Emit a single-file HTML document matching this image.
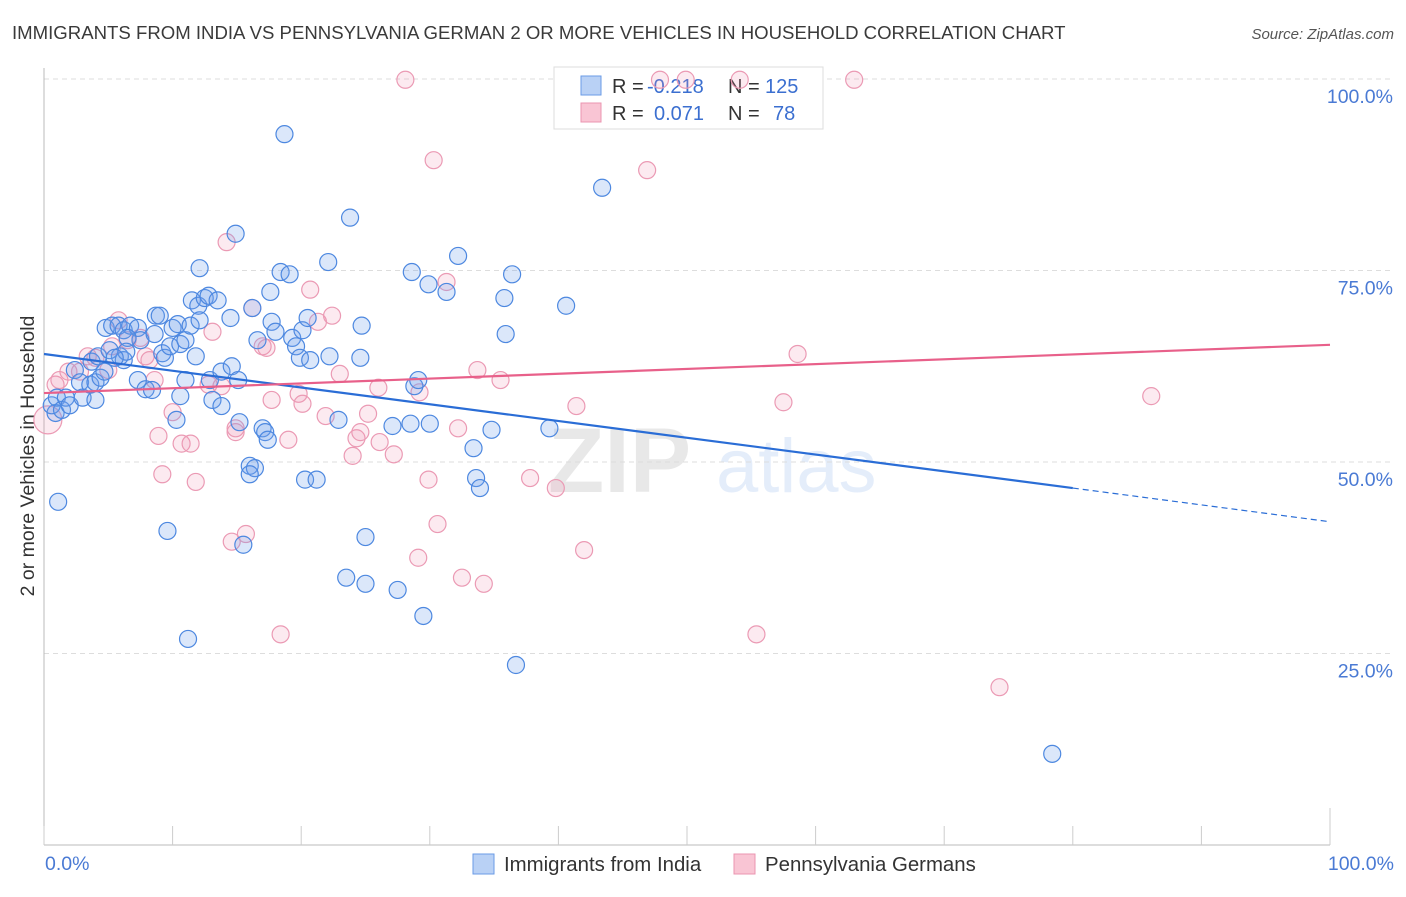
<!DOCTYPE html>
<html><head><meta charset="utf-8"><style>
body{margin:0;background:#fff;font-family:"Liberation Sans",sans-serif;}
svg text{font-family:"Liberation Sans",sans-serif;}
</style></head><body>
<svg id="chart" width="1406" height="892" xmlns="http://www.w3.org/2000/svg">
<text x="12" y="39" font-size="18.6" fill="#3a3a3a">IMMIGRANTS FROM INDIA VS PENNSYLVANIA GERMAN 2 OR MORE VEHICLES IN HOUSEHOLD CORRELATION CHART</text>
<text x="1394" y="39" font-size="15" fill="#555" font-style="italic" text-anchor="end">Source: ZipAtlas.com</text>
<text transform="translate(34,456) rotate(-90)" font-size="19.5" fill="#333" text-anchor="middle">2 or more Vehicles in Household</text>
<g opacity="0.13">
<text x="548" y="492" font-size="92" font-family="Liberation Serif" fill="#555" font-weight="bold">ZIP</text>
<text x="716" y="492" font-size="76" fill="#3b7de0">atlas</text>
</g>
<g id="grid"></g><g id="axes"></g>
<g>
<rect x="554" y="67" width="269" height="62" fill="#fff" stroke="#ddd"/>
<rect x="581" y="76" width="20" height="19" fill="#b9d1f5" stroke="#6a9be6"/>
<rect x="581" y="103" width="20" height="19" fill="#f9c5d4" stroke="#eb95b0"/>
<text x="612" y="93" font-size="20" fill="#333">R = </text><text x="647" y="93" font-size="20" fill="#3b6fd0">-0.218</text>
<text x="728" y="93" font-size="20" fill="#333">N = </text><text x="765" y="93" font-size="20" fill="#3b6fd0">125</text>
<text x="612" y="120" font-size="20" fill="#333">R = </text><text x="654" y="120" font-size="20" fill="#3b6fd0">0.071</text>
<text x="728" y="120" font-size="20" fill="#333">N = </text><text x="773" y="120" font-size="20" fill="#3b6fd0">78</text>
</g>
<g id="pts"></g><g id="trend"></g>
<g>
<rect x="473" y="854" width="21" height="20" fill="#b9d1f5" stroke="#6a9be6"/>
<text x="504" y="871" font-size="20.4" fill="#333">Immigrants from India</text>
<rect x="734" y="854" width="21" height="20" fill="#f9c5d4" stroke="#eb95b0"/>
<text x="765" y="871" font-size="20.4" fill="#333">Pennsylvania Germans</text>
</g>
</svg>
<script>
const yTicks=[100,75,50,25];
const yTickLabels=["100.0%","75.0%","50.0%","25.0%"];
const xTicks=[0,10,20,30,40,50,60,70,80,90,100];
const xTickLabels=["0.0%","100.0%"];
const indiaX=[1.1,0.9,0.6,1.0,1.4,1.7,2.0,2.4,2.8,3.0,3.6,4.0,4.4,3.7,4.2,4.8,5.3,5.8,6.2,6.7,7.3,7.5,6.5,5.9,6.2,6.4,5.1,5.5,4.7,7.3,7.9,8.4,8.6,8.7,9.2,9.4,9.8,10.0,10.4,10.6,11.0,10.3,10.6,9.6,11.2,11.0,11.5,11.8,12.1,12.0,12.5,12.8,12.9,13.1,13.5,13.8,13.8,14.5,14.6,14.9,15.1,15.2,15.5,16.0,16.4,16.0,16.2,16.6,17.0,17.2,17.4,17.6,17.7,18.0,18.4,18.7,19.1,19.3,19.6,19.9,20.1,20.5,20.7,20.3,21.2,22.1,22.2,23.8,23.5,24.6,24.7,25.0,25.0,22.9,27.1,27.5,28.5,28.6,29.5,29.9,30.0,31.3,32.2,33.4,33.6,33.9,34.8,35.8,35.9,36.4,36.7,39.3,40.6,43.4,78.4,28.8,29.1,11.4,12.1,9.0,4.0];
const indiaY=[44.8,56.4,57.4,58.4,56.8,58.4,57.4,62.0,60.4,58.4,60.1,60.4,61.0,63.1,63.8,67.5,67.8,67.8,67.2,67.8,67.5,65.9,66.2,63.8,63.3,64.4,64.6,63.6,61.8,60.7,59.5,59.4,66.7,69.1,64.2,63.6,65.1,67.5,68.0,65.4,65.9,55.5,58.6,41.0,26.9,60.7,71.1,63.8,75.3,70.4,71.4,71.7,60.7,58.1,71.1,57.3,61.8,68.8,62.5,79.8,60.7,55.2,39.2,49.5,49.2,48.4,70.1,65.9,54.4,53.9,52.9,72.2,68.3,67.0,74.8,92.8,74.5,66.2,65.1,63.6,67.2,68.8,63.3,47.7,47.7,76.1,63.8,81.9,34.9,63.6,67.8,40.2,34.1,55.5,54.7,33.3,55.0,74.8,29.9,73.2,55.0,72.2,76.9,51.8,47.9,46.6,54.2,71.4,66.7,74.5,23.5,54.4,70.4,85.8,11.9,59.9,60.7,67.8,68.5,69.1,58.1];
const paX=[0.3,0.9,1.2,1.9,2.8,3.4,4.0,5.0,5.3,5.8,6.5,7.5,7.9,8.2,8.6,8.9,9.2,10.0,10.7,11.4,11.8,12.8,13.1,13.8,14.2,14.6,14.9,15.7,16.2,17.0,17.3,17.7,18.4,19.0,19.8,20.1,20.7,21.3,21.9,22.4,23.0,24.0,24.3,24.6,25.2,26.0,26.1,27.2,28.1,29.1,29.2,29.9,30.3,30.6,31.3,32.2,32.5,33.7,34.2,35.5,37.8,39.8,41.4,42.0,46.9,47.9,49.9,54.1,55.4,57.5,58.6,63.0,74.3,86.1,14.9];
const paY=[55.5,60.1,60.7,61.8,61.8,63.8,63.6,62.0,65.1,68.5,65.9,66.2,63.8,63.3,60.7,53.4,48.4,56.5,52.4,52.4,47.4,60.1,67.0,59.9,78.7,39.6,53.9,40.6,70.1,65.1,64.9,58.1,27.5,52.9,58.9,57.6,72.5,68.3,56.0,69.1,61.5,50.8,53.1,53.9,56.3,59.7,52.6,51.0,99.9,37.5,59.1,47.7,89.4,41.9,73.5,54.4,34.9,62.0,34.1,60.7,47.9,46.6,57.3,38.5,88.1,99.9,99.9,99.9,27.5,57.8,64.1,99.9,20.6,58.6,54.4];
const indiaTrend=[64.1,46.6,42.2];
const indiaTrendX=[0,80,100];
const paTrend=[59.0,65.3];
const paTrendX=[0,100];

const X0=44,X1=1330,Y0=845,Y100=79;
const sx=v=>X0+(X1-X0)*v/100;
const sy=v=>Y0-(Y0-Y100)*v/100;
const NS="http://www.w3.org/2000/svg";
function mk(tag,attrs,parent){const e=document.createElementNS(NS,tag);for(const k in attrs)e.setAttribute(k,attrs[k]);parent.appendChild(e);return e;}
const grid=document.getElementById('grid'),axes=document.getElementById('axes'),pts=document.getElementById('pts'),trend=document.getElementById('trend');
yTicks.forEach((t,i)=>{
  const l=mk('line',{x1:X0,x2:1394,y1:sy(t),y2:sy(t),stroke:'#ddd','stroke-dasharray':'5,4'},grid);
  
  
  const tx=mk('text',{x:1393,y:sy(t)+24,'font-size':19.5,fill:'#4a7ad4','text-anchor':'end'},grid);
  tx.textContent=yTickLabels[i];
  
  
});
const ax=mk('line',{x1:X0,x2:X0,y1:68,y2:Y0,stroke:'#bbb'},axes);


const bx=mk('line',{x1:X0,x2:X1,y1:Y0,y2:Y0,stroke:'#bbb'},axes);


xTicks.forEach(t=>{
  const tk=mk('line',{x1:sx(t),x2:sx(t),y1:t===100?808:826,y2:Y0,stroke:'#ccc'},axes);
  
  
});
[[0,'start',45],[100,'end',1394]].forEach((d,i)=>{
  const tx=mk('text',{x:d[2],y:870,'font-size':19.5,fill:'#4a7ad4','text-anchor':d[1]},axes);
  tx.textContent=xTickLabels[i];
  
  
});
paX.forEach((v,i)=>{
  const c=mk('circle',{cx:sx(v),cy:sy(paY[i]),r:i===0?14:8.5,fill:'rgba(240,150,180,0.2)',stroke:'#eb9ab4','stroke-width':1.2},pts);
  
  
});
indiaX.forEach((v,i)=>{
  const c=mk('circle',{cx:sx(v),cy:sy(indiaY[i]),r:8.5,fill:'rgba(110,160,235,0.25)',stroke:'#4d88e0','stroke-width':1.2},pts);
  
  
});
const b1=mk('line',{x1:sx(indiaTrendX[0]),y1:sy(indiaTrend[0]),x2:sx(indiaTrendX[1]),y2:sy(indiaTrend[1]),stroke:'#2a6dd6','stroke-width':2.2},trend);


const b2=mk('line',{x1:sx(indiaTrendX[1]),y1:sy(indiaTrend[1]),x2:sx(indiaTrendX[2]),y2:sy(indiaTrend[2]),stroke:'#2a6dd6','stroke-width':1.2,'stroke-dasharray':'6,4'},trend);


const p1=mk('line',{x1:sx(paTrendX[0]),y1:sy(paTrend[0]),x2:sx(paTrendX[1]),y2:sy(paTrend[1]),stroke:'#e8608a','stroke-width':2.2},trend);


</script>
</body></html>
